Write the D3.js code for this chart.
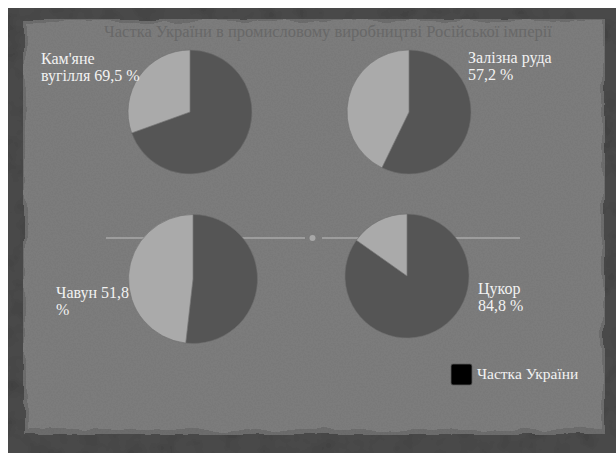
<!DOCTYPE html>
<html>
<head>
<meta charset="utf-8">
<script src="https://cdn.jsdelivr.net/npm/d3@7"></script>
<style>
  html, body { margin: 0; padding: 0; background: #ffffff; }
  svg { display: block; }
</style>
</head>
<body>
<svg id="chart" width="616" height="453"></svg>
<script>
// Частка України в промисловому виробництві Російської імперії (%)
const title = "Частка України в промисловому виробництві Російської імперії";
const categories = ["Кам'яне вугілля", "Залізна руда", "Чавун", "Цукор"];
const shares = [69.5, 57.2, 51.8, 84.8];
const legendLabel = "Частка України";
// word index at which each label wraps to its second line
const labelBreaks = [1, 2, 2, 1];

const W = 616, H = 453;
const svg = d3.select("#chart");
const defs = svg.append("defs");

// soft grain for the slide
const grain = defs.append("filter").attr("id", "grain")
  .attr("x", 0).attr("y", 0).attr("width", "100%").attr("height", "100%");
grain.append("feTurbulence").attr("type", "fractalNoise")
  .attr("baseFrequency", 0.6).attr("numOctaves", 2).attr("seed", 3).attr("result", "n");
grain.append("feColorMatrix").attr("in", "n").attr("type", "matrix")
  .attr("values", "0 0 0 0 0  0 0 0 0 0  0 0 0 0 0  0 0 0 -1.2 0.7").attr("result", "a");
grain.append("feComposite").attr("in", "a").attr("in2", "SourceGraphic").attr("operator", "in").attr("result", "b");
grain.append("feComponentTransfer").attr("in", "b").attr("result", "c")
  .append("feFuncA").attr("type", "linear").attr("slope", 0.12);
grain.append("feMerge").selectAll("feMergeNode").data(["SourceGraphic", "c"]).join("feMergeNode").attr("in", d => d);

// mottling for the dark frame
const mottle = defs.append("filter").attr("id", "mottle")
  .attr("x", 0).attr("y", 0).attr("width", "100%").attr("height", "100%");
mottle.append("feTurbulence").attr("type", "fractalNoise")
  .attr("baseFrequency", 0.05).attr("numOctaves", 3).attr("seed", 11).attr("result", "n");
mottle.append("feColorMatrix").attr("in", "n").attr("type", "matrix")
  .attr("values", "0 0 0 0 0  0 0 0 0 0  0 0 0 0 0  0 0 0 -1.6 0.9").attr("result", "a");
mottle.append("feComposite").attr("in", "a").attr("in2", "SourceGraphic").attr("operator", "in").attr("result", "b");
mottle.append("feComponentTransfer").attr("in", "b").attr("result", "c")
  .append("feFuncA").attr("type", "linear").attr("slope", 0.3);
mottle.append("feMerge").selectAll("feMergeNode").data(["SourceGraphic", "c"]).join("feMergeNode").attr("in", d => d);

// ragged paper edge
const torn = defs.append("filter").attr("id", "torn")
  .attr("x", "-5%").attr("y", "-5%").attr("width", "110%").attr("height", "110%");
torn.append("feTurbulence").attr("type", "fractalNoise")
  .attr("baseFrequency", 0.025).attr("numOctaves", 3).attr("seed", 7).attr("result", "t");
torn.append("feDisplacementMap").attr("in", "SourceGraphic").attr("in2", "t")
  .attr("scale", 12).attr("xChannelSelector", "R").attr("yChannelSelector", "G");

// dark frame
svg.append("rect").attr("x", 8).attr("y", 8).attr("width", W - 8).attr("height", H - 8)
  .attr("fill", "#4a4a4a").attr("filter", "url(#mottle)");
// paper with a slightly darker torn rim
const paper = svg.append("g").attr("filter", "url(#grain)");
paper.append("rect").attr("x", 23).attr("y", 19).attr("width", 582).attr("height", 416)
  .attr("fill", "#6c6c6c").attr("filter", "url(#torn)");
paper.append("rect").attr("x", 26).attr("y", 22).attr("width", 576).attr("height", 408)
  .attr("fill", "#7b7b7b").attr("filter", "url(#torn)");

// title
svg.append("text").attr("x", 328).attr("y", 37).attr("text-anchor", "middle")
  .attr("font-family", "'Liberation Serif', 'DejaVu Serif', serif").attr("font-size", 16.5)
  .attr("fill", "#686868").text(title);

// divider with a dot
const divider = svg.append("g");
divider.append("line").attr("x1", 106).attr("x2", 305).attr("y1", 238).attr("y2", 238)
  .attr("stroke", "#a8a8a8").attr("stroke-width", 1.3);
divider.append("line").attr("x1", 322).attr("x2", 520).attr("y1", 238).attr("y2", 238)
  .attr("stroke", "#a8a8a8").attr("stroke-width", 1.3);
divider.append("circle").attr("cx", 312.5).attr("cy", 238).attr("r", 3).attr("fill", "#a8a8a8");

// pies
const layout = [
  { cx: 190, cy: 112, r: 62, lx: 41, ly: 64 },
  { cx: 409, cy: 112, r: 62, lx: 468, ly: 63 },
  { cx: 193, cy: 279, r: 64.5, lx: 56, ly: 298 },
  { cx: 407, cy: 276, r: 62, lx: 478, ly: 294 }
];
const color = d3.scaleOrdinal().domain(["ua", "rest"]).range(["#555555", "#aaaaaa"]);
const pie = d3.pie().sort(null).value(d => d.v);
const fmt = v => d3.format(".1f")(v).replace(".", ",");

categories.forEach((cat, i) => {
  const L = layout[i];
  const arc = d3.arc().innerRadius(0).outerRadius(L.r);
  const g = svg.append("g").attr("transform", `translate(${L.cx},${L.cy})`);
  g.selectAll("path")
    .data(pie([{ k: "ua", v: shares[i] }, { k: "rest", v: 100 - shares[i] }]))
    .join("path")
    .attr("d", arc)
    .attr("fill", d => color(d.data.k))
    .attr("stroke", "#6e6e6e").attr("stroke-width", 0.6);

  const words = `${cat} ${fmt(shares[i])} %`.split(" ");
  const lines = [words.slice(0, labelBreaks[i]).join(" "), words.slice(labelBreaks[i]).join(" ")];
  svg.append("text")
    .attr("font-family", "'Liberation Serif', 'DejaVu Serif', serif").attr("font-size", 16)
    .attr("fill", "#f2f2f2")
    .selectAll("tspan").data(lines).join("tspan")
    .attr("x", L.lx).attr("y", (d, j) => L.ly + j * 17).text(d => d);
});

// legend
const lg = svg.append("g");
lg.append("rect").attr("x", 451).attr("y", 364).attr("width", 21).attr("height", 21).attr("rx", 2)
  .attr("fill", "#000").attr("stroke", "#5a5a5a").attr("stroke-width", 0.8);
lg.append("text").attr("x", 477).attr("y", 379)
  .attr("font-family", "'Liberation Serif', 'DejaVu Serif', serif").attr("font-size", 15.5)
  .attr("fill", "#f2f2f2").text(legendLabel);
</script>
</body>
</html>
